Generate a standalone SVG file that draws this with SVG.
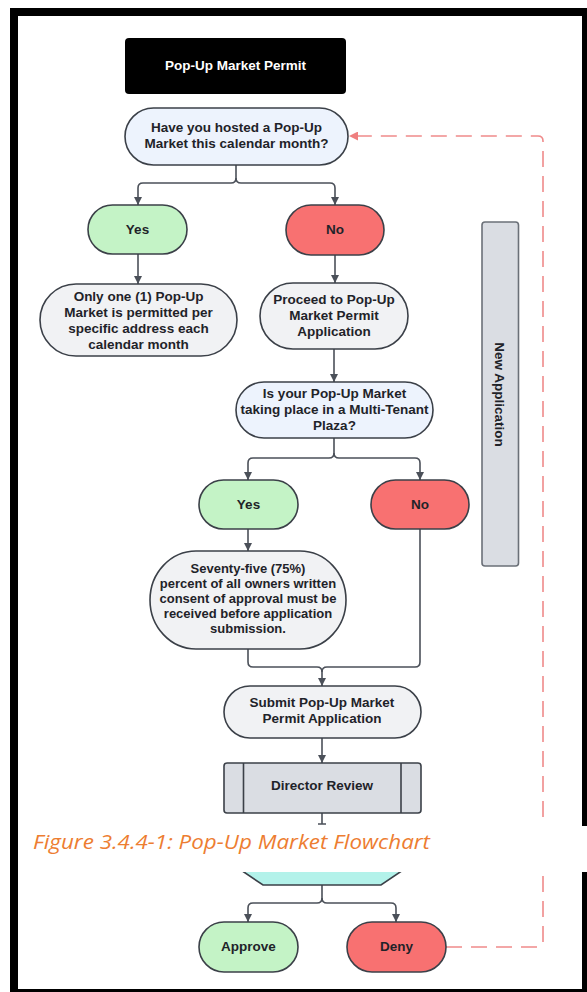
<svg xmlns="http://www.w3.org/2000/svg" width="587" height="992" viewBox="0 0 587 992">
<defs>
<style>
.t{font-family:"Liberation Sans",Arial,sans-serif;font-weight:bold;font-size:13.5px;fill:#1f2329;text-anchor:middle}
.s{stroke:#3b4048;stroke-width:1.6}
.green{fill:#c4f3c6}
.red{fill:#f87171}
.gray{fill:#f1f2f4}
.blue{fill:#edf3fd}
.steel{fill:#dadde3}
.c{fill:none;stroke:#4b5059;stroke-width:1.6}
</style>
<marker id="ah" viewBox="0 0 10 10" refX="10" refY="5" markerWidth="8" markerHeight="8" markerUnits="userSpaceOnUse" orient="auto">
<path d="M0,0 L10,5 L0,10 z" fill="#4b5059"/>
</marker>
<marker id="ahr" viewBox="0 0 10 10" refX="10" refY="5" markerWidth="10" markerHeight="9" markerUnits="userSpaceOnUse" orient="auto">
<path d="M0,0 L10,5 L0,10 z" fill="#ef7f7f"/>
</marker>
</defs>
<rect x="0" y="0" width="587" height="992" fill="#ffffff"/>
<rect x="10" y="8" width="590" height="990" fill="#000000"/>
<rect x="18" y="16" width="564" height="973" fill="#ffffff"/>

<g id="connectors">
<path class="c" d="M236,165 V178 Q236,183 231,183 H143 Q138,183 138,188 V205" marker-end="url(#ah)"/>
<path class="c" d="M236,178 Q236,183 241,183 H330 Q335,183 335,188 V205" marker-end="url(#ah)"/>
<path class="c" d="M138,254 V284" marker-end="url(#ah)"/>
<path class="c" d="M335,255 V283" marker-end="url(#ah)"/>
<path class="c" d="M334,349 V382" marker-end="url(#ah)"/>
<path class="c" d="M334,438 V453 Q334,458 329,458 H253 Q248,458 248,463 V480" marker-end="url(#ah)"/>
<path class="c" d="M334,453 Q334,458 339,458 H415 Q420,458 420,463 V480" marker-end="url(#ah)"/>
<path class="c" d="M248,529 V551" marker-end="url(#ah)"/>
<path class="c" d="M248,649 V662 Q248,667 253,667 H317 Q322,667 322,672 V686" marker-end="url(#ah)"/>
<path class="c" d="M420,529 V662 Q420,667 415,667 H327 Q322,667 322,672"/>
<path class="c" d="M322,738 V763" marker-end="url(#ah)"/>
<path class="c" d="M322,813 V824 M318,824 H326"/>
<path class="c" d="M322,885 V898 Q322,903 317,903 H253 Q248,903 248,908 V922" marker-end="url(#ah)"/>
<path class="c" d="M322,898 Q322,903 327,903 H391 Q396,903 396,908 V922" marker-end="url(#ah)"/>
<path d="M446,947 H538 Q543,947 543,942 V141 Q543,136 538,136 H349" fill="none" stroke="#ef8a8a" stroke-width="1.6" stroke-dasharray="16 9" marker-end="url(#ahr)"/>
</g>

<g id="title">
<rect x="125" y="38" width="221" height="56" rx="4" fill="#000000"/>
<text class="t" x="235.5" y="70" style="fill:#ffffff">Pop-Up Market Permit</text>
</g>

<g id="q1">
<rect class="s blue" x="125" y="108" width="223" height="57" rx="28.5"/>
<text class="t" x="236.5" y="132">Have you hosted a Pop-Up</text>
<text class="t" x="236.5" y="148">Market this calendar month?</text>
</g>

<g id="yes1">
<rect class="s green" x="88" y="205" width="99" height="49" rx="24.5"/>
<text class="t" x="137.5" y="234">Yes</text>
</g>

<g id="no1">
<rect class="s red" x="286" y="205" width="98" height="50" rx="25"/>
<text class="t" x="335" y="234">No</text>
</g>

<g id="onlyone">
<rect class="s gray" x="40" y="284" width="197" height="72" rx="36"/>
<text class="t" x="138.5" y="301">Only one (1) Pop-Up</text>
<text class="t" x="138.5" y="317">Market is permitted per</text>
<text class="t" x="138.5" y="333">specific address each</text>
<text class="t" x="138.5" y="349">calendar month</text>
</g>

<g id="proceed">
<rect class="s gray" x="260" y="283" width="148" height="66" rx="33"/>
<text class="t" x="334" y="304">Proceed to Pop-Up</text>
<text class="t" x="334" y="320">Market Permit</text>
<text class="t" x="334" y="336">Application</text>
</g>

<g id="q2">
<rect class="s blue" x="236" y="382" width="197" height="56" rx="28"/>
<text class="t" x="334.5" y="398">Is your Pop-Up Market</text>
<text class="t" x="334.5" y="414">taking place in a Multi-Tenant</text>
<text class="t" x="334.5" y="430">Plaza?</text>
</g>

<g id="yes2">
<rect class="s green" x="199" y="480" width="99" height="49" rx="24.5"/>
<text class="t" x="248.5" y="509">Yes</text>
</g>

<g id="no2">
<rect class="s red" x="371" y="480" width="98" height="49" rx="24.5"/>
<text class="t" x="420" y="509">No</text>
</g>

<g id="consent">
<rect class="s gray" x="150" y="551" width="196" height="98" rx="46" ry="49"/>
<text class="t" x="248" y="573" style="font-size:13px">Seventy-five (75%)</text>
<text class="t" x="248" y="588" style="font-size:13px">percent of all owners written</text>
<text class="t" x="248" y="603" style="font-size:13px">consent of approval must be</text>
<text class="t" x="248" y="618" style="font-size:13px">received before application</text>
<text class="t" x="248" y="633" style="font-size:13px">submission.</text>
</g>

<g id="submit">
<rect class="s gray" x="224" y="686" width="197" height="52" rx="26"/>
<text class="t" x="322" y="707">Submit Pop-Up Market</text>
<text class="t" x="322" y="723">Permit Application</text>
</g>

<g id="review">
<rect class="s steel" x="224" y="763" width="197" height="50" rx="3"/>
<path class="s" d="M243.5,763 V813 M401,763 V813" fill="none"/>
<text class="t" x="322" y="790">Director Review</text>
</g>

<g id="decision">
<polygon class="s" points="263,885 381,885 418,860 381,835 263,835 226,860" fill="#b3f2ea"/>
</g>

<g id="approve">
<rect class="s green" x="199" y="922" width="99" height="50" rx="25"/>
<text class="t" x="248.5" y="951">Approve</text>
</g>

<g id="deny">
<rect class="s red" x="347" y="922" width="99" height="50" rx="25"/>
<text class="t" x="396.5" y="951">Deny</text>
</g>

<g id="newapp">
<rect x="482" y="222" width="36.5" height="344" rx="3" fill="#dadde3" stroke="#6b7078" stroke-width="1.6"/>
<text class="t" transform="translate(495,394.5) rotate(90)" x="0" y="0">New Application</text>
</g>

<rect x="18" y="826" width="569" height="46" fill="#ffffff"/>
<text x="33" y="849" font-family="'Open Sans','Noto Sans',sans-serif" font-style="italic" font-size="20" fill="#ed7d31" textLength="397" lengthAdjust="spacingAndGlyphs">Figure 3.4.4-1: Pop-Up Market Flowchart</text>
</svg>
